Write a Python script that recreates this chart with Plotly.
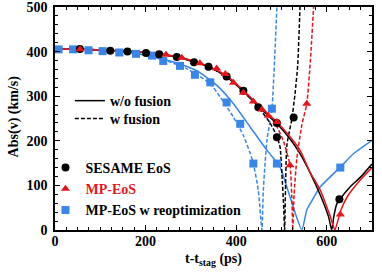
import plotly.graph_objects as go

# ---- data ----
# solid lines: without fusion
sesame_t = [0, 60, 120, 160, 200, 240, 280, 310, 340, 380, 416, 450, 490, 520, 541, 564, 586, 604, 611, 616, 622, 630, 652, 674, 700]
sesame_v = [405, 405, 403, 401, 398, 393, 385, 376, 366, 343, 311, 276, 238, 203, 171, 127, 78, 30, 0, 32, 58, 70, 97, 118, 148]
mp_t = [0, 60, 120, 160, 200, 240, 280, 310, 340, 380, 416, 450, 490, 520, 541, 563, 586, 608, 618, 626, 630, 645, 674, 700]
mp_v = [405, 405, 403, 401, 399, 394, 386, 377, 367, 345, 313, 279, 242, 208, 179, 130, 89, 30, 0, 26, 41, 74, 112, 140]
reopt_t = [0, 50, 100, 150, 200, 250, 290, 320, 360, 394, 431, 468, 497, 519, 545, 556, 564, 586, 630, 659, 700]
reopt_v = [405, 405, 403, 399, 392, 380, 367, 353, 322, 283, 231, 179, 141, 74, 0, 45, 60, 97, 141, 171, 201]

# dashed lines: with fusion
sesame_f_t = [0, 60, 120, 160, 200, 240, 280, 310, 340, 380, 416, 450, 475, 490, 497, 501, 505, 507, 512, 523, 530, 536, 541]
sesame_f_v = [405, 405, 403, 401, 398, 393, 385, 376, 366, 343, 311, 274, 240, 210, 186, 127, 52, 0, 190, 249, 305, 370, 500]
mp_f_t = [0, 60, 120, 160, 200, 240, 280, 310, 340, 380, 416, 450, 475, 490, 505, 519, 523, 525, 528, 534, 545, 556, 564, 571]
mp_f_v = [405, 405, 403, 401, 399, 394, 386, 377, 367, 345, 313, 279, 255, 232, 198, 145, 74, 0, 80, 160, 235, 283, 380, 500]
reopt_f_t = [0, 50, 100, 150, 200, 250, 290, 320, 343, 365, 394, 416, 431, 438, 449, 457, 460, 468, 479, 490]
reopt_f_v = [405, 405, 403, 399, 392, 378, 362, 344, 328, 298, 253, 212, 172, 149, 89, 0, 89, 201, 272, 500]

# markers
sesame_pt_t = [55, 122, 160, 201, 230, 269, 307, 339, 379, 416, 449, 490, 490, 527, 628]
sesame_pt_v = [406, 402, 400, 397, 394, 388, 376, 366, 344, 312, 275, 240, 208, 252, 69]
mp_pt_t = [55, 245, 280, 320, 357, 376, 394, 416, 438, 457, 471, 490, 519, 556, 630]
mp_pt_v = [405, 393, 386, 374, 362, 350, 330, 308, 288, 270, 256, 242, 145, 283, 35]
reopt_pt_t = [8, 40, 74, 105, 142, 179, 214, 239, 276, 309, 343, 379, 409, 438, 479, 490, 630]
reopt_pt_v = [405, 405, 403, 401, 398, 395, 391, 379, 368, 348, 331, 286, 238, 149, 272, 149, 140]

x_ticks = [0, 200, 400, 600]
y_ticks = [0, 100, 200, 300, 400, 500]

BLACK = "#000000"
RED = "#e3161c"
BLUE = "#3a86e6"
FONT = "Liberation Serif, Times New Roman, serif"
DASH = "4px,2px"
LFONT = dict(family=FONT, size=14, color=BLACK, weight="bold")

fig = go.Figure()

def line(t, v, color, dash="solid"):
    fig.add_trace(go.Scatter(x=t, y=v, mode="lines", showlegend=False,
                             line=dict(color=color, width=1.5, dash=dash, shape="spline", smoothing=0.5),
                             hoverinfo="skip"))

line(reopt_t, reopt_v, BLUE)
line(reopt_f_t, reopt_f_v, BLUE, DASH)
line(sesame_t, sesame_v, BLACK)
line(sesame_f_t, sesame_f_v, BLACK, DASH)
line(mp_t, mp_v, RED)
line(mp_f_t, mp_f_v, RED, DASH)

fig.add_trace(go.Scatter(x=reopt_pt_t, y=reopt_pt_v, mode="markers", name="<b>MP-EoS w reoptimization</b>",
                         marker=dict(symbol="square", size=8, color=BLUE), legend="legend2", legendrank=3))
fig.add_trace(go.Scatter(x=sesame_pt_t, y=sesame_pt_v, mode="markers", name="<b>SESAME EoS</b>",
                         marker=dict(symbol="circle", size=8, color=BLACK), legend="legend2", legendrank=1))
fig.add_trace(go.Scatter(x=mp_pt_t, y=mp_pt_v, mode="markers",
                         name="<b><span style='color:%s'>MP-EoS</span></b>" % RED,
                         marker=dict(symbol="triangle-up", size=8, color=RED), legend="legend2", legendrank=2))

# line-style legend (two single-item legends for exact spacing)
fig.add_trace(go.Scatter(x=[None], y=[None], mode="lines", name="<b>w/o fusion</b>",
                         line=dict(color=BLACK, width=1.5), legend="legend"))
fig.add_trace(go.Scatter(x=[None], y=[None], mode="lines", name="<b>w fusion</b>",
                         line=dict(color=BLACK, width=1.5, dash=DASH), legend="legend3"))

axis_common = dict(showline=True, linecolor=BLACK, linewidth=1.5, mirror="allticks",
                   ticks="inside", ticklen=5, tickwidth=1.2, tickcolor=BLACK,
                   showgrid=False, zeroline=False, automargin=False, ticklabeloverflow="allow",
                   tickfont=dict(family=FONT, size=14, color=BLACK, weight="bold"))

fig.update_layout(
    width=382, height=280,
    margin=dict(l=55, r=10, t=7, b=50),
    paper_bgcolor="white", plot_bgcolor="white",
    font=dict(family=FONT, color=BLACK),
    xaxis=dict(range=[0, 700], tickvals=x_ticks, ticktext=["<b>%d</b>" % v for v in x_ticks],
               ticklabelstandoff=-3,
               minor=dict(ticks="inside", dtick=25, ticklen=3, tickcolor=BLACK),
               title=dict(text="<b>t-t<sub>stag</sub> (ps)</b>", standoff=6,
                          font=dict(family=FONT, size=14, color=BLACK, weight="bold")),
               **axis_common),
    yaxis=dict(range=[0, 500], tickvals=y_ticks, ticktext=["<b>%d</b>" % v for v in y_ticks],
               ticklabelstandoff=3,
               minor=dict(ticks="inside", dtick=20, ticklen=3, tickcolor=BLACK),
               **axis_common),
    annotations=[dict(text="<b>Abs(v) (km/s)</b>", textangle=-90, xref="paper", yref="paper",
                      x=-0.129, y=0.51, xanchor="center", yanchor="middle", showarrow=False,
                      font=dict(family=FONT, size=14, color=BLACK, weight="bold"))],
    legend=dict(x=0.047, y=0.650, xanchor="left", yanchor="top", bgcolor="rgba(0,0,0,0)", font=LFONT),
    legend3=dict(x=0.047, y=0.570, xanchor="left", yanchor="top", bgcolor="rgba(0,0,0,0)", font=LFONT),
    legend2=dict(x=-0.03, y=0.35, xanchor="left", yanchor="top", bgcolor="rgba(0,0,0,0)",
                 font=LFONT, traceorder="normal", tracegroupgap=0),
    showlegend=True,
)

fig.write_html("out.html", config={"displayModeBar": False},
               post_script="document.body.style.margin='0px';")
